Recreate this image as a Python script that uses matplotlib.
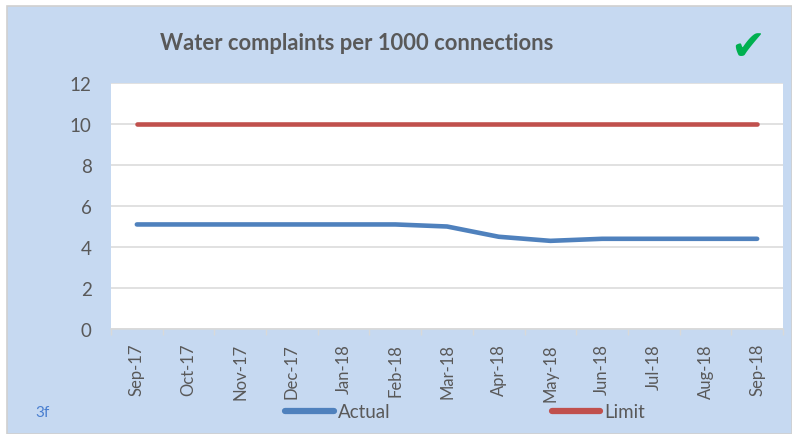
import matplotlib
matplotlib.use("Agg")
import matplotlib.pyplot as plt
from matplotlib.patches import Rectangle
from matplotlib.lines import Line2D

months = ["Sep-17", "Oct-17", "Nov-17", "Dec-17", "Jan-18", "Feb-18", "Mar-18",
          "Apr-18", "May-18", "Jun-18", "Jul-18", "Aug-18", "Sep-18"]
actual = [5.1, 5.1, 5.1, 5.1, 5.1, 5.1, 5.0, 4.5, 4.3, 4.4, 4.4, 4.4, 4.4]
limit = [10, 10, 10, 10, 10, 10, 10, 10, 10, 10, 10, 10, 10]
y_ticks = [0, 2, 4, 6, 8, 10, 12]
title = "Water complaints per 1000 connections"

plt.rcParams['font.family'] = ['Lato', 'DejaVu Sans']

W, H = 792, 435
fig = plt.figure(figsize=(W / 100, H / 100), dpi=100)
fig.patch.set_facecolor("white")

bg_blue = "#C6D9F1"
txt = "#595959"
grid_c = "#D9D9D9"

bg = Rectangle((7 / W, 0), 1 - 7 / W, 1 - 7 / H, transform=fig.transFigure,
               facecolor=bg_blue, edgecolor="#D0D0D0", lw=1.2, zorder=-5)
fig.patches.append(bg)

ax = fig.add_axes([111 / W, (H - 330) / H, (783 - 111) / W, (330 - 84) / H])
ax.set_zorder(2)
ax.set_facecolor("white")

x = list(range(len(months)))
ax.plot(x, actual, color="#4F81BD", lw=3.3, solid_capstyle="round", zorder=3, label="Actual")
ax.plot(x, limit, color="#C0504D", lw=3.3, solid_capstyle="round", zorder=3, label="Limit")

ax.set_xlim(-0.5, len(months) - 0.5)
ax.set_ylim(0, 12)
ax.set_yticks(y_ticks)
ax.set_yticklabels([str(v) for v in y_ticks])
ax.set_xticks(x)
ax.set_xticklabels(months, rotation=90, va="top", ha="center")
ax.set_xticks([i + 0.5 for i in range(-1, len(months))], minor=True)

ax.tick_params(axis="y", length=0, pad=14, labelsize=13.5, labelcolor=txt)
ax.tick_params(axis="x", which="major", length=0, pad=10, labelsize=12, labelcolor=txt)
ax.tick_params(axis="x", which="minor", length=4, width=1, color=grid_c)

ax.grid(axis="y", color=grid_c, lw=1.1, zorder=1)
ax.set_axisbelow(True)
for s in ["top", "right", "left"]:
    ax.spines[s].set_visible(False)
ax.spines["bottom"].set_color(grid_c)
ax.spines["bottom"].set_linewidth(1.1)

fig.text(357 / W, 1 - 44 / H, title, ha="center", va="center", fontsize=15.8,
         fontweight="bold", color=txt)

fig.text(748 / W, 1 - 48 / H, "\u2714", ha="center", va="center", fontsize=30,
         color="#00B050", family=["DejaVu Sans"])

fig.text(35 / W, 1 - 413 / H, "3f", ha="left", va="center", fontsize=11, color="#4A7FD0")

handles = [Line2D([], [], color="#4F81BD", lw=4.5, solid_capstyle="round"),
           Line2D([], [], color="#C0504D", lw=4.5, solid_capstyle="round")]
fig.legend(handles, ["Actual", "Limit"], loc="center", bbox_to_anchor=(465 / W, 1 - 413 / H),
           ncol=2, frameon=False, fontsize=13.5, handlelength=2.6, handletextpad=0.2,
           columnspacing=8.6, labelcolor=txt, borderpad=0, borderaxespad=0)

fig.savefig("out.png", dpi=100, facecolor=fig.get_facecolor())
